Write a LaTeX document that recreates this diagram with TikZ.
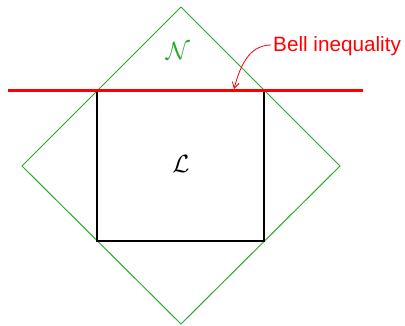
\documentclass[tikz,border=0pt]{standalone}
\usepackage{fontspec}
\setmainfont{Liberation Sans}
\usetikzlibrary{arrows.meta}
\definecolor{dgreen}{RGB}{40,170,40}
\tikzset{
  diam/.style={draw=dgreen, line width=1pt},
  rectb/.style={draw=black, line width=2.5pt},
  redline/.style={draw=red, line width=3pt},
  lbl/.style={text=red, font=\fontsize{20.7}{24}\selectfont, inner sep=0pt, anchor=base west},
  arr/.style={draw=red, line width=0.8pt, -{Straight Barb[length=6pt,width=7pt]}}
}
\begin{document}
\begin{tikzpicture}[x=1pt,y=-1pt]
\useasboundingbox (0,0) rectangle (405,325);
\coordinate (T) at (181,7);
\coordinate (R) at (340,166);
\coordinate (B) at (181,324);
\coordinate (Lf) at (22,166);
\draw[diam] (T) -- (R) -- (B) -- (Lf) -- cycle;
\draw[rectb] (97,91) rectangle (264,241);
\coordinate (r1) at (8,90);
\coordinate (r2) at (363,90);
\draw[redline] (r1) -- (r2);
\node[lbl] (bell) at (273,51) {Bell inequality};
\coordinate (tip) at (234,89);
\draw[arr] (271,45) to[out=180,in=75] (tip);
\node[text=dgreen, font=\fontsize{34}{38}\selectfont] (N) at (178,51) {$\mathcal{N}$};
\node[font=\fontsize{34}{38}\selectfont] (L) at (181,164) {$\mathcal{L}$};
\end{tikzpicture}
\end{document}
